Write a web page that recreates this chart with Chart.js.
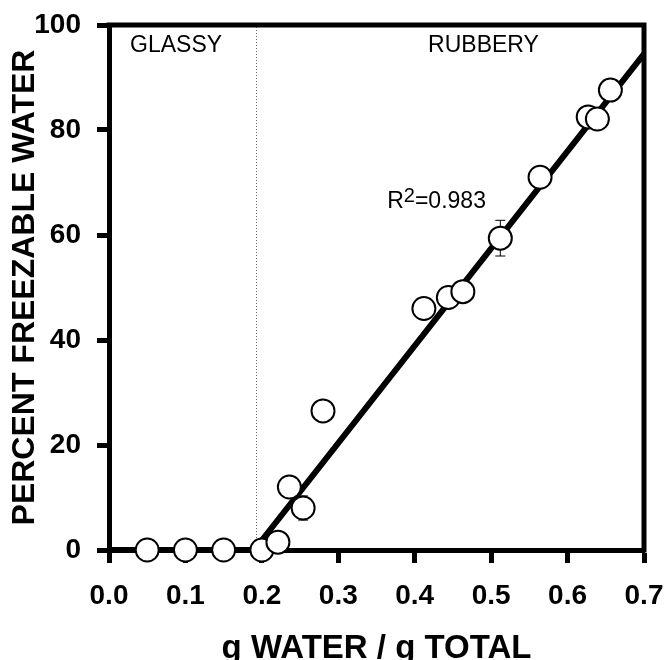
<!DOCTYPE html>
<html>
<head>
<meta charset="utf-8">
<script src="https://cdn.jsdelivr.net/npm/chart.js@4.4.1/dist/chart.umd.min.js"></script>
<style>
  html, body { margin: 0; padding: 0; background: #fff; }
  canvas { display: block; }
</style>
</head>
<body>
<canvas id="waterChart" width="666" height="660"></canvas>
<script>
// measured samples: water content vs percent freezable water
const waterContent = [0.05, 0.10, 0.15, 0.20, 0.221, 0.236, 0.254, 0.280, 0.412, 0.444, 0.463, 0.512, 0.564, 0.627, 0.639, 0.656];
const freezable    = [0, 0, 0, 0, 1.5, 12.0, 8.0, 26.5, 46.0, 48.1, 49.2, 59.4, 71.0, 82.5, 82.1, 87.6];
const errorSize    = [0, 0, 0, 0, 0, 0, 2.3, 0, 0, 0, 0, 3.4, 0, 0, 0, 0];

// fitted line (flat in glassy region, then linear)
const fitX = [0, 0.19, 0.7];
const fitY = [0, 0, 94.5];

// glass transition marker
const transitionX = 0.193;

const xTicks = [0.0, 0.1, 0.2, 0.3, 0.4, 0.5, 0.6, 0.7];
const yTicks = [0, 20, 40, 60, 80, 100];

const FONT = "'Liberation Sans', Arial, Helvetica, sans-serif";

const points = waterContent.map((x, i) => ({ x: x, y: freezable[i] }));
const fitLine = fitX.map((x, i) => ({ x: x, y: fitY[i] }));
const transitionLine = [{ x: transitionX, y: 0 }, { x: transitionX, y: 100 }];

// top + right sides of the box
const framePlugin = {
    id: 'frame',
    afterDraw(chart) {
        const { ctx, chartArea } = chart;
        ctx.save();
        ctx.strokeStyle = '#000';
        ctx.lineWidth = 5;
        ctx.lineCap = 'square';
        ctx.beginPath();
        ctx.moveTo(chartArea.left, chartArea.top);
        ctx.lineTo(chartArea.right, chartArea.top);
        ctx.lineTo(chartArea.right, chartArea.bottom);
        ctx.stroke();
        ctx.restore();
    }
};

// error bars, drawn under the circles
const errorBarPlugin = {
    id: 'errorBars',
    beforeDatasetsDraw(chart) {
        const { ctx, scales } = chart;
        ctx.save();
        ctx.strokeStyle = '#000';
        ctx.lineWidth = 1;
        errorSize.forEach((err, i) => {
            if (!err) return;
            const px = scales.x.getPixelForValue(waterContent[i]);
            const top = scales.y.getPixelForValue(freezable[i] + err);
            const bot = scales.y.getPixelForValue(freezable[i] - err);
            ctx.beginPath();
            ctx.moveTo(px, top);
            ctx.lineTo(px, bot);
            ctx.moveTo(px - 5, top);
            ctx.lineTo(px + 5, top);
            ctx.moveTo(px - 5, bot);
            ctx.lineTo(px + 5, bot);
            ctx.stroke();
        });
        ctx.restore();
    }
};

// region names and the R^2 note
const labelPlugin = {
    id: 'regionLabels',
    afterDatasetsDraw(chart) {
        const { ctx, scales } = chart;
        const x = v => scales.x.getPixelForValue(v);
        const y = v => scales.y.getPixelForValue(v);
        ctx.save();
        ctx.fillStyle = '#000';
        ctx.textBaseline = 'alphabetic';
        ctx.textAlign = 'left';
        ctx.font = '23px ' + FONT;
        ctx.fillText('GLASSY', x(0.0275), y(94.9));
        ctx.fillText('RUBBERY', x(0.4175), y(94.9));

        let rx = x(0.364);
        const ry = y(65.1);
        ctx.font = '23px ' + FONT;
        ctx.fillText('R', rx, ry);
        rx += ctx.measureText('R').width;
        ctx.font = '20px ' + FONT;
        ctx.fillText('2', rx, ry - 6);
        rx += ctx.measureText('2').width;
        ctx.font = '23px ' + FONT;
        ctx.fillText('=0.983', rx, ry);
        ctx.restore();
    }
};

const ctx = document.getElementById('waterChart').getContext('2d');
new Chart(ctx, {
    type: 'scatter',
    data: {
        datasets: [
            {
                label: 'measured',
                data: points,
                pointRadius: 11.5,
                pointHoverRadius: 11.5,
                pointBackgroundColor: '#fff',
                pointBorderColor: '#000',
                pointBorderWidth: 2,
                clip: false,
                order: 1,
            },
            {
                type: 'line',
                label: 'fit',
                data: fitLine,
                borderColor: '#000',
                borderWidth: 6,
                pointRadius: 0,
                fill: false,
                clip: false,
                order: 2,
            },
            {
                type: 'line',
                label: 'transition',
                data: transitionLine,
                borderColor: '#666',
                borderWidth: 1,
                borderDash: [1, 2],
                pointRadius: 0,
                fill: false,
                order: 3,
            },
        ],
    },
    options: {
        responsive: false,
        animation: false,
        events: [],
        layout: {
            autoPadding: false,
            padding: { top: 25, right: 22, left: 0, bottom: 0 },
        },
        plugins: {
            legend: { display: false },
            tooltip: { enabled: false },
        },
        scales: {
            x: {
                type: 'linear',
                min: 0,
                max: 0.7,
                afterBuildTicks: scale => {
                    scale.ticks = xTicks.map(v => ({ value: v }));
                },
                afterFit: scale => {
                    scale.height = 110;
                    scale.paddingLeft = 0;
                    scale.paddingRight = 0;
                },
                ticks: {
                    color: '#000',
                    padding: 16,
                    font: { family: FONT, size: 28, weight: 'bold' },
                    callback: value => Number(value).toFixed(1),
                },
                grid: {
                    drawOnChartArea: false,
                    drawTicks: true,
                    tickLength: 13,
                    tickWidth: 5,
                    tickColor: '#000',
                },
                border: { display: true, width: 5, color: '#000' },
                title: {
                    display: true,
                    text: 'g WATER / g TOTAL',
                    color: '#000',
                    font: { family: FONT, size: 33, weight: 'bold', lineHeight: 0.7 },
                    padding: { top: 0, bottom: 0 },
                },
            },
            y: {
                type: 'linear',
                min: 0,
                max: 100,
                afterBuildTicks: scale => {
                    scale.ticks = yTicks.map(v => ({ value: v }));
                },
                afterFit: scale => {
                    scale.width = 109;
                    scale.paddingTop = 0;
                    scale.paddingBottom = 0;
                },
                ticks: {
                    color: '#000',
                    padding: 16,
                    font: { family: FONT, size: 28, weight: 'bold' },
                },
                grid: {
                    drawOnChartArea: false,
                    drawTicks: true,
                    tickLength: 12,
                    tickWidth: 5,
                    tickColor: '#000',
                },
                border: { display: true, width: 5, color: '#000' },
                title: {
                    display: true,
                    text: 'PERCENT FREEZABLE WATER',
                    color: '#000',
                    font: { family: FONT, size: 32, weight: 'bold', lineHeight: 1.2 },
                    padding: { top: 6, bottom: 0 },
                },
            },
        },
    },
    plugins: [framePlugin, errorBarPlugin, labelPlugin],
});
</script>
</body>
</html>
